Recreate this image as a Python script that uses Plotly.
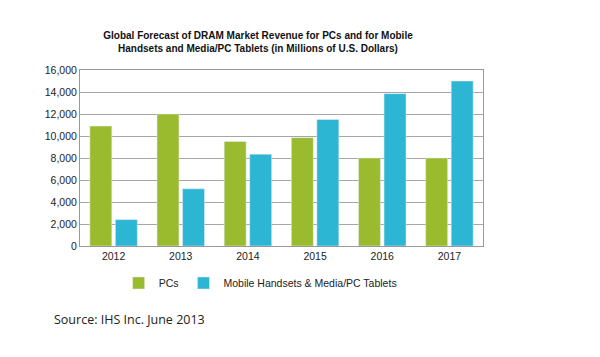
import plotly.graph_objects as go

years = ["2012", "2013", "2014", "2015", "2016", "2017"]
pcs = [10900, 12000, 9500, 9850, 8000, 8000]
mobile = [2400, 5200, 8350, 11500, 13850, 15000]
y_ticks = [0, 2000, 4000, 6000, 8000, 10000, 12000, 14000, 16000]
y_tick_text = ["0", "2,000", "4,000", "6,000", "8,000", "10,000", "12,000", "14,000", "16,000"]

fig = go.Figure()
fig.add_trace(go.Bar(x=years, y=pcs, name="PCs", marker_color="#9bbb2f"))
fig.add_trace(go.Bar(x=years, y=mobile, name="Mobile Handsets & Media/PC Tablets", marker_color="#2db6d3"))

fig.update_layout(
    width=600, height=357,
    margin=dict(l=80, r=117, t=70, b=111),
    paper_bgcolor="white", plot_bgcolor="white",
    font=dict(family="Liberation Sans, Arial, sans-serif", size=10.5, color="#222"),
    barmode="group", bargap=0.24, bargroupgap=0.14,
    title=dict(
        text="<b>Global Forecast of DRAM Market Revenue for PCs and for Mobile<br>Handsets and Media/PC Tablets (in Millions of U.S. Dollars)</b>",
        x=258/600, xanchor="center", y=1 - 39/357, yanchor="middle",
        font=dict(size=10, color="#111"),
    ),
    xaxis=dict(showline=True, linecolor="#999", linewidth=1, mirror=True, ticks="",
               tickfont=dict(size=10.5, color="#222")),
    yaxis=dict(range=[0, 16000], tickvals=y_ticks, ticktext=y_tick_text,
               showgrid=True, gridcolor="#a6a6a6", gridwidth=1,
               showline=True, linecolor="#999", linewidth=1, mirror=True,
               zeroline=False, tickfont=dict(size=10.5, color="#222"), ticks=""),
    legend=dict(orientation="h", x=0.447, xanchor="center", y=-0.21, yanchor="middle",
                font=dict(size=10.5, color="#222"), itemwidth=30, traceorder="normal"),
    showlegend=True,
)
fig.add_annotation(text="Source: IHS Inc. June 2013", xref="paper", yref="paper",
                   x=-0.069, y=-0.42, xanchor="left", yanchor="middle", showarrow=False,
                   font=dict(family="Open Sans, Liberation Sans, sans-serif", size=12.5, color="#222"))

fig.write_html("out.html", config={"displayModeBar": False},
               post_script="document.body.style.margin='0';document.body.style.padding='0';")
